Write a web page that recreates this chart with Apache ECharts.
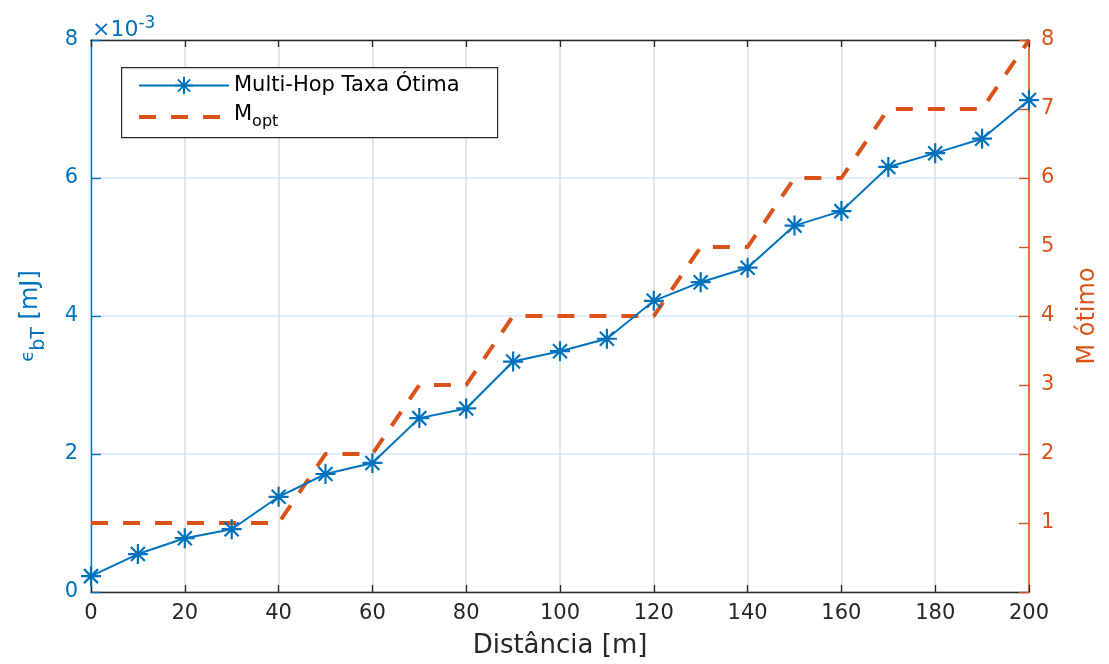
<!DOCTYPE html>
<html>
<head>
<meta charset="utf-8">
<script src="https://cdn.jsdelivr.net/npm/echarts@6/dist/echarts.min.js"></script>
<style>
  html, body { margin: 0; padding: 0; background: #fff; }
  #chart { width: 1109px; height: 664px; }
</style>
</head>
<body>
<div id="chart"></div>
<script>
// Distance [m]
const distances = [0, 10, 20, 30, 40, 50, 60, 70, 80, 90, 100, 110, 120, 130, 140, 150, 160, 170, 180, 190, 200];
// Energy per bit epsilon_bT [mJ], in units of 1e-3
const energyMultiHop = [0.23, 0.55, 0.78, 0.91, 1.38, 1.71, 1.87, 2.52, 2.66, 3.34, 3.49, 3.67, 4.22, 4.49, 4.70, 5.31, 5.52, 6.16, 6.36, 6.57, 7.13];
// Optimal number of hops M_opt
const mOpt = [1, 1, 1, 1, 1, 2, 2, 3, 3, 4, 4, 4, 4, 5, 5, 6, 6, 7, 7, 7, 8];
// Tick labels
const xTicks = [0, 20, 40, 60, 80, 100, 120, 140, 160, 180, 200];
const leftTicks = [0, 2, 4, 6, 8];
const rightTicks = [1, 2, 3, 4, 5, 6, 7, 8];
const seriesNames = ['Multi-Hop Taxa Ótima', 'M_opt'];

const BLUE = '#0072BD';
const ORANGE = '#D95319';
const DARK = '#262626';
const FONT = 'DejaVu Sans';

const chart = echarts.init(document.getElementById('chart'), null, { renderer: 'canvas' });

const blueData = distances.map((d, i) => [d, energyMultiHop[i]]);
const orangeData = distances.map((d, i) => [d, mOpt[i]]);

const option = {
  animation: false,
  backgroundColor: '#fff',
  textStyle: { fontFamily: FONT },
  grid: { left: 91, right: 80, top: 40, bottom: 68, containLabel: false },
  graphic: [
    {
      type: 'rect', left: 121, top: 67, z: 90,
      shape: { width: 376, height: 70 },
      style: { fill: '#fff', stroke: DARK, lineWidth: 1.2 }
    },
    {
      type: 'text', left: 92, top: 15, z: 100,
      style: {
        text: '{a|×10}{b|-3}',
        rich: {
          a: { fontFamily: FONT, fontSize: 22, fill: BLUE, color: BLUE, verticalAlign: 'bottom' },
          b: { fontFamily: FONT, fontSize: 17, fill: BLUE, color: BLUE, verticalAlign: 'top', padding: [0, 0, 9, 0] }
        }
      }
    }
  ],
  legend: {
    orient: 'vertical',
    left: 137, top: 75,
    padding: 0,
    itemWidth: 90, itemHeight: 22, itemGap: 8,
    z: 100,
    backgroundColor: 'transparent',
    data: [
      { name: seriesNames[0], lineStyle: { width: 2 } },
      { name: seriesNames[1], itemStyle: { opacity: 0 }, lineStyle: { width: 4 } }
    ],
    formatter: function (name) {
      return name === 'M_opt' ? '{m|M}{s|opt}' : '{n|' + name + '}';
    },
    textStyle: {
      fontFamily: FONT, fontSize: 21, color: '#000',
      rich: {
        n: { fontFamily: FONT, fontSize: 21, color: '#000' },
        m: { fontFamily: FONT, fontSize: 21, color: '#000', verticalAlign: 'top' },
        s: { fontFamily: FONT, fontSize: 16, color: '#000', verticalAlign: 'bottom', padding: [10, 0, 0, 0] }
      }
    }
  },
  xAxis: [
    {
      type: 'value', min: 0, max: 200, interval: 20,
      position: 'bottom',
      name: 'Distância [m]', nameLocation: 'middle', nameGap: 41,
      nameTextStyle: { fontFamily: FONT, fontSize: 26, color: DARK },
      axisLine: { show: true, onZero: false, lineStyle: { color: DARK, width: 1.3 } },
      axisTick: { show: true, inside: true, length: 7, lineStyle: { color: DARK, width: 1.3 } },
      axisLabel: {
        show: true, margin: 11, fontFamily: FONT, fontSize: 21, color: DARK,
        formatter: v => (xTicks.indexOf(v) >= 0 ? String(v) : '')
      },
      splitLine: { show: true, lineStyle: { color: '#dedede', width: 1.5 } }
    },
    {
      type: 'value', min: 0, max: 200, interval: 20,
      position: 'top',
      axisLine: { show: true, onZero: false, lineStyle: { color: DARK, width: 1.3 } },
      axisTick: { show: true, inside: true, length: 7, lineStyle: { color: DARK, width: 1.3 } },
      axisLabel: { show: false },
      splitLine: { show: false }
    }
  ],
  yAxis: [
    {
      type: 'value', min: 0, max: 8, interval: 2,
      position: 'left',
      name: '{e|ϵ}{s|bT}{n| [mJ]}', nameLocation: 'middle', nameGap: 42, nameRotate: 90,
      nameTextStyle: {
        color: BLUE, fontFamily: FONT, fontSize: 24,
        rich: {
          e: { fontFamily: FONT, fontSize: 18, color: BLUE, verticalAlign: 'top' },
          s: { fontFamily: FONT, fontSize: 19, color: BLUE, verticalAlign: 'bottom', padding: [11, 0, 0, 0] },
          n: { fontFamily: FONT, fontSize: 24, color: BLUE, verticalAlign: 'top' }
        }
      },
      axisLine: { show: true, onZero: false, lineStyle: { color: BLUE, width: 1.4 } },
      axisTick: { show: true, inside: true, length: 10, lineStyle: { color: BLUE, width: 1.4 } },
      axisLabel: {
        show: true, margin: 13, fontFamily: FONT, fontSize: 21, color: BLUE,
        formatter: v => (leftTicks.indexOf(v) >= 0 ? String(v) : '')
      },
      splitLine: { show: true, lineStyle: { color: '#d9e9f5', width: 1.5 } }
    },
    {
      type: 'value', min: 0, max: 8, interval: 1,
      position: 'right',
      name: 'M ótimo', nameLocation: 'middle', nameGap: 47, nameRotate: 90,
      nameTextStyle: { color: ORANGE, fontFamily: FONT, fontSize: 24 },
      axisLine: { show: true, onZero: false, lineStyle: { color: ORANGE, width: 1.6 } },
      axisTick: { show: true, inside: true, length: 10, lineStyle: { color: ORANGE, width: 1.4 } },
      axisLabel: {
        show: true, margin: 12, fontFamily: FONT, fontSize: 21, color: ORANGE,
        formatter: v => (rightTicks.indexOf(v) >= 0 ? String(v) : '')
      },
      splitLine: { show: false }
    }
  ],
  series: [
    {
      name: seriesNames[0],
      type: 'line',
      xAxisIndex: 0, yAxisIndex: 0,
      data: blueData,
      z: 5,
      symbol: 'path://M10,0L10,20M0,10L20,10M3,3L17,17M3,17L17,3',
      symbolSize: 20,
      showSymbol: true,
      lineStyle: { color: BLUE, width: 2 },
      itemStyle: { color: 'rgba(0,0,0,0)', borderColor: BLUE, borderWidth: 2.2 },
      emphasis: { disabled: true }
    },
    {
      name: seriesNames[1],
      type: 'line',
      xAxisIndex: 0, yAxisIndex: 1,
      data: orangeData,
      z: 3,
      symbol: 'circle',
      showSymbol: false,
      lineStyle: { color: ORANGE, width: 4, type: [17, 15], join: 'round', cap: 'butt' },
      itemStyle: { color: ORANGE, opacity: 0 },
      emphasis: { disabled: true }
    }
  ]
};

chart.setOption(option);
</script>
</body>
</html>
